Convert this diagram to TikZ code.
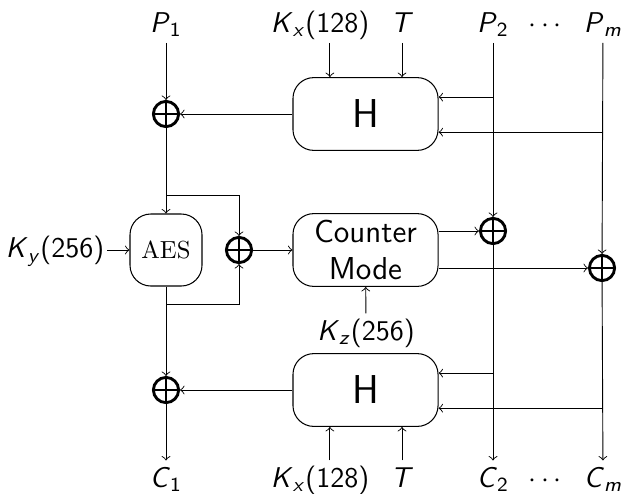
\documentclass[tikz,border=0pt]{standalone}
\usetikzlibrary{positioning}
\newcommand{\subvar}[2]{\textsl{#1}\textsubscript{#2}}

\begin{document}
\begin{tikzpicture}[
        x=1.352mm, y=-1.352mm,
        lbl/.style={font=\fontsize{11}{13}\selectfont\sffamily, inner sep=1pt, text height=9pt, text depth=3pt},
        hbox/.style={draw, rounded corners=8pt, minimum width=55.8pt, minimum height=28pt, align=center, inner sep=2pt, font=\fontsize{12.2}{14.2}\selectfont\sffamily},
        hbig/.style={hbox, font=\fontsize{15.5}{18}\selectfont\sffamily},
        aesbox/.style={draw, rounded corners=8pt, minimum size=27.7pt, inner sep=1pt, font=\fontsize{9.5}{11}\selectfont\rmfamily},
        xor/.style={circle, draw, line width=1.1pt, minimum size=9.7pt, inner sep=0pt,
            path picture={\draw[line width=1.1pt] (path picture bounding box.north) -- (path picture bounding box.south)
                (path picture bounding box.west) -- (path picture bounding box.east);}},
        arr/.style={->, line width=0.35pt}
    ]
    \useasboundingbox (0,0) rectangle (62.1,49.3);
    % Bloques principales
    \node[hbig] (h1) at (36.55,11.4) {H};
    \node[hbox] (cm) at (36.55,25) {Counter\\Mode};
    \node[hbig] (h2) at (36.55,39) {H};
    \node[aesbox] (aes) at (16.6,25) {AES};
    % XOR
    \node[xor] (x1) at (16.6,11.4) {};
    \node[xor] (x2) at (23.9,25) {};
    \node[xor] (x3) at (49.3,23.1) {};
    \node[xor] (x4) at (60.2,26.8) {};
    \node[xor] (x5) at (16.6,39) {};
    % Entradas arriba
    \node[lbl, anchor=base] (p1) at (16.6,3.2) {\subvar{P}{1}};
    \node[lbl, anchor=base] (kx1) at (32.0,3.2) {\subvar{K}{\textsl{x}}(128)};
    \node[lbl, anchor=base] (t1) at (40.2,3.2) {\textsl{T}};
    \node[lbl, anchor=base] (p2) at (49.3,3.2) {\subvar{P}{2}};
    \node[lbl, anchor=base] (dt1) at (54.5,3.2) {$\cdots$};
    \node[lbl, anchor=base] (pm) at (60.3,3.2) {\subvar{P}{\textsl{m}}};
    % Claves
    \node[lbl, left=8.5pt of aes] (ky) {\subvar{K}{\textsl{y}}(256)};
    \node[lbl, anchor=base] (kz) at (36.6,34.0) {\subvar{K}{\textsl{z}}(256)};
    % Salidas abajo
    \node[lbl, anchor=base] (c1) at (16.6,48.7) {\subvar{C}{1}};
    \node[lbl, anchor=base] (kx2) at (32.0,48.7) {\subvar{K}{\textsl{x}}(128)};
    \node[lbl, anchor=base] (t2) at (40.2,48.7) {\textsl{T}};
    \node[lbl, anchor=base] (c2) at (49.3,48.7) {\subvar{C}{2}};
    \node[lbl, anchor=base] (dt2) at (54.5,48.7) {$\cdots$};
    \node[lbl, anchor=base] (cmm) at (60.3,48.7) {\subvar{C}{\textsl{m}}};

    \coordinate (kx1a) at ([xshift=3.8pt]kx1.south);
    \coordinate (kx2a) at ([xshift=3.8pt]kx2.north);
    \coordinate (h1a) at ([yshift=6.5pt]h1.east);
    \coordinate (h1b) at ([yshift=-7pt]h1.east);
    \coordinate (h2a) at ([yshift=6.5pt]h2.east);
    \coordinate (h2b) at ([yshift=-7pt]h2.east);
    \coordinate (b1) at (16.6,19.5);
    \coordinate (b2) at (16.6,30.4);

    \draw[arr] (p1) -- (x1); \draw[arr] (h1) -- (x1);
    \draw[arr] (x1) -- (aes); \draw[arr] (b1) -| (x2);
    \draw[arr] (b2) -| (x2); \draw[arr] (ky) -- (aes);
    \draw[arr] (aes) -- (x5); \draw[arr] (h2) -- (x5);
    \draw[arr] (x5) -- (c1); \draw[arr] (x2) -- (cm);
    \draw[arr] (kx1a) -- (kx1a |- h1.north); \draw[arr] (t1) -- (h1.north -| t1);
    \draw[arr] (kx2a) -- (kx2a |- h2.south); \draw[arr] (t2) -- (h2.south -| t2);
    \draw[arr] (kz) -- (cm);
    \draw[arr] (cm.east |- x3) -- (x3);
    \draw[arr] (cm.east |- x4) -- (x4);
    \draw[arr] (p2) -- (x3); \draw[arr] (x3) -- (c2);
    \draw[arr] (pm) -- (x4); \draw[arr] (x4) -- (cmm);
    \draw[arr] (h1a -| p2) -- (h1a); \draw[arr] (h1b -| pm) -- (h1b);
    \draw[arr] (h2a -| p2) -- (h2a); \draw[arr] (h2b -| pm) -- (h2b);
\end{tikzpicture}
\end{document}
